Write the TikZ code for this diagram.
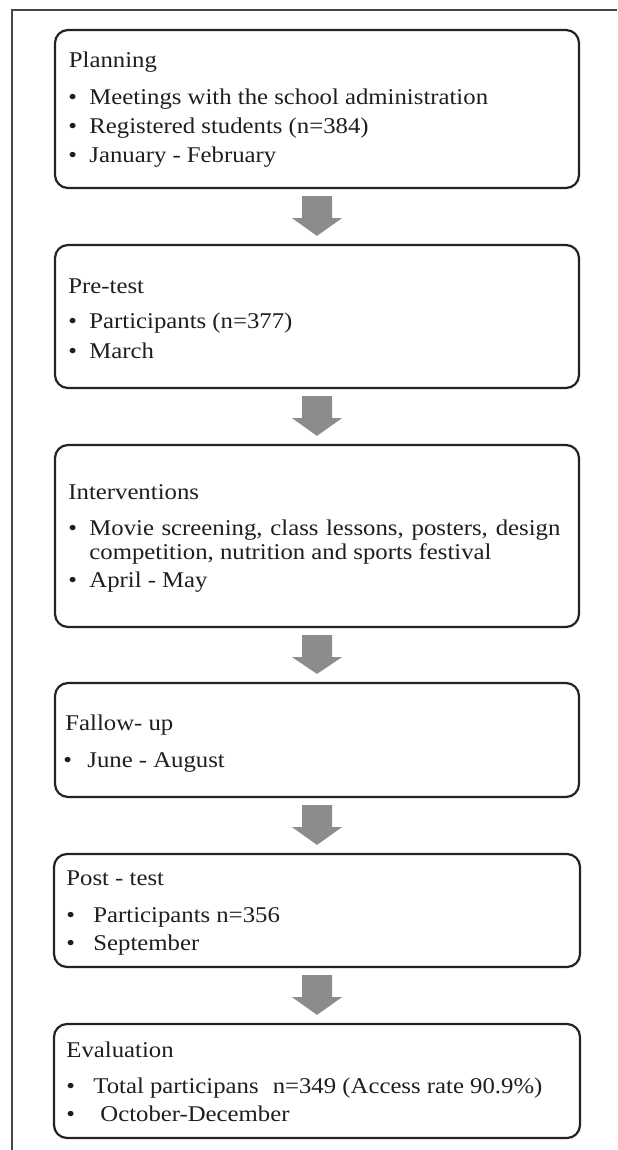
\documentclass[tikz,border=0pt]{standalone}
\usepackage{fontspec}
\setmainfont{Liberation Serif}[FakeStretch=1.1]
\usetikzlibrary{fit,calc}
\definecolor{boxline}{RGB}{35,35,35}
\definecolor{arrowfill}{RGB}{140,140,140}
\definecolor{frameline}{RGB}{70,70,70}
\definecolor{textcol}{RGB}{30,30,30}
\begin{document}
\begin{tikzpicture}[x=0.5pt,y=-0.5pt,
  stepbox/.style={draw=boxline, line width=1.1pt, rounded corners=6.5pt, inner sep=0pt, fit={#1}},
  txt/.style={anchor=base west, inner sep=0pt, text=textcol, font=\fontsize{11.25}{13}\selectfont},
]
\useasboundingbox (0,0) rectangle (617,1150);
\draw[frameline, line width=0.8pt] (12,1150) -- (12,10) -- (617,10);

% boxes
\node[stepbox={(55,30) (579,188)}] (b1) {};
\node[stepbox={(55,245) (579,388)}] (b2) {};
\node[stepbox={(55,445) (579,627)}] (b3) {};
\node[stepbox={(55,683) (579,797)}] (b4) {};
\node[stepbox={(54,854) (580,967)}] (b5) {};
\node[stepbox={(54,1024) (580,1138)}] (b6) {};

% arrows
\foreach \a/\b in {b1/b2,b2/b3,b3/b4,b4/b5,b5/b6}{
  \fill[arrowfill] ($(\a.south)+(-15,7)$) -- ($(\a.south)+(15,7)$) -- ($(\a.south)+(15,29)$)
    -- ($(\a.south)+(25,29)$) -- ($(\b.north)+(0,-8)$) -- ($(\a.south)+(-25,29)$)
    -- ($(\a.south)+(-15,29)$) -- cycle;
}

% box 1
\node[txt] (t1) at (68.5,68) {Planning};
\node[txt] (t1p1) at (68,105) {•};
\node[txt] (t1i1) at (89,105) {Meetings with the school administration};
\node[txt] (t1p2) at (68,134) {•};
\node[txt] (t1i2) at (89,134) {Registered students (n=384)};
\node[txt] (t1p3) at (68,163) {•};
\node[txt] (t1i3) at (89,163) {January - February};

% box 2
\node[txt] (t2) at (68,293) {Pre-test};
\node[txt] (t2p1) at (68,328) {•};
\node[txt] (t2i1) at (89,328) {Participants (n=377)};
\node[txt] (t2p2) at (68,358) {•};
\node[txt] (t2i2) at (89,358) {March};

% box 3
\node[txt] (t3) at (68,499) {Interventions};
\node[txt] (t3p1) at (68,535) {•};
\node[txt] (t3i1) at (89,535) {\makebox[235.5pt][s]{Movie screening, class lessons, posters, design}};
\node[txt] (t3i1b) at (89,559) {competition, nutrition and sports festival};
\node[txt] (t3p2) at (68,587) {•};
\node[txt] (t3i2) at (89,587) {April - May};

% box 4
\node[txt] (t4) at (65,730) {Fallow- up};
\node[txt] (t4p1) at (63,767) {•};
\node[txt] (t4i1) at (87,767) {June - August};

% box 5
\node[txt] (t5) at (66,885) {Post - test};
\node[txt] (t5p1) at (66,922) {•};
\node[txt] (t5i1) at (93,922) {Participants n=356};
\node[txt] (t5p2) at (66,950) {•};
\node[txt] (t5i2) at (93,950) {September};

% box 6
\node[txt] (t6) at (66,1057) {Evaluation};
\node[txt] (t6p1) at (66,1093) {•};
\node[txt] (t6i1) at (93,1093) {Total participans\hspace{0.35em} n=349 (Access rate 90.9\%)};
\node[txt] (t6p2) at (66,1121) {•};
\node[txt] (t6i2) at (100,1121) {October-December};
\end{tikzpicture}
\end{document}
